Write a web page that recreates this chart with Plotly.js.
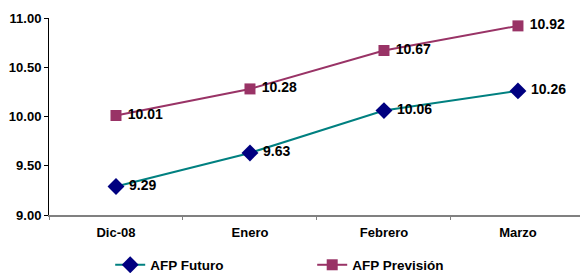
<!DOCTYPE html>
<html>
<head>
<meta charset="utf-8">
<script src="https://cdn.plot.ly/plotly-3.0.1.min.js"></script>
<style>html,body{margin:0;padding:0;background:#fff}#chart{width:580px;height:273px}</style>
</head>
<body>
<div id="chart"></div>
<script>
const categories = ["Dic-08", "Enero", "Febrero", "Marzo"];
const futuro = [9.29, 9.63, 10.06, 10.26];
const prevision = [10.01, 10.28, 10.67, 10.92];
const yTicks = [9.0, 9.5, 10.0, 10.5, 11.0];

const family = "Liberation Sans, Arial, sans-serif";
const labelFont = {family: family, size: 14, color: "#000", weight: "bold"};
const axisFont = {family: family, size: 13, color: "#000", weight: "bold"};

const traces = [
  {
    x: categories, y: futuro, name: "AFP Futuro", type: "scatter", mode: "lines+markers+text",
    line: {color: "#008080", width: 2},
    marker: {symbol: "diamond", size: 13, color: "#000080"},
    text: futuro.map(v => " " + v.toFixed(2)), textposition: "middle right",
    textfont: labelFont, cliponaxis: false, hoverinfo: "skip"
  },
  {
    x: categories, y: prevision, name: "AFP Previsión", type: "scatter", mode: "lines+markers+text",
    line: {color: "#993366", width: 2},
    marker: {symbol: "square", size: 11, color: "#993366"},
    text: prevision.map(v => " " + v.toFixed(2)), textposition: "middle right",
    textfont: labelFont, cliponaxis: false, hoverinfo: "skip"
  }
];

const layout = {
  width: 580, height: 273,
  margin: {l: 49, r: 0, t: 18, b: 58},
  paper_bgcolor: "#fff", plot_bgcolor: "#fff",
  font: axisFont,
  showlegend: true,
  legend: {
    orientation: "h", xref: "container", yref: "container",
    x: 0.19, y: 1 - 265/273, xanchor: "left", yanchor: "middle",
    font: {family: family, size: 13.5, color: "#000", weight: "bold"},
    entrywidth: 157, entrywidthmode: "pixels",
    bgcolor: "rgba(0,0,0,0)"
  },
  xaxis: {
    type: "category", range: [-0.5, 3.463], fixedrange: true,
    showline: true, linecolor: "#808080", linewidth: 2,
    ticks: "outside", tickson: "boundaries", ticklen: 3, tickcolor: "#808080",
    ticklabelstandoff: 4,
    showgrid: false, zeroline: false,
    tickfont: axisFont
  },
  yaxis: {
    range: [9.0, 11.0], tickvals: yTicks, ticktext: yTicks.map(v => v.toFixed(2)),
    showline: true, linecolor: "#000", linewidth: 1,
    ticks: "outside", ticklen: 4, tickcolor: "#000",
    showgrid: false, zeroline: false, fixedrange: true,
    tickfont: axisFont
  }
};

Plotly.newPlot("chart", traces, layout, {displayModeBar: false, staticPlot: true});
</script>
</body>
</html>
